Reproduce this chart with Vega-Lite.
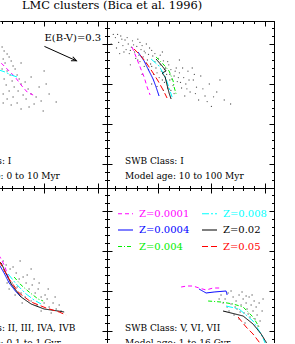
{
"$schema": "https://vega.github.io/schema/vega-lite/v6.json",
"padding": 0,
"background": "white",
"columns": 2,
"align": "each",
"bounds": "flush",
"spacing": 0,
"title": {"text": "LMC clusters (Bica et al. 1996)", "anchor": "start", "dx": 22, "font": "DejaVu Serif", "fontSize": 11.4, "fontWeight": "normal", "color": "#000", "baseline": "alphabetic", "offset": 0},
"config": {"view": {"stroke": null}, "axis": {"labels": false, "grid": false, "domainColor": "#000", "tickColor": "#000", "domainWidth": 1, "tickWidth": 1, "minExtent": 0, "maxExtent": 0}},
"datasets": {
"pts": [
{"p":"TR","bv":-0.40,"ub":-1.08},{"p":"TR","bv":-0.37,"ub":-1.02},{"p":"TR","bv":-0.35,"ub":-1.10},{"p":"TR","bv":-0.33,"ub":-0.98},{"p":"TR","bv":-0.31,"ub":-1.05},{"p":"TR","bv":-0.30,"ub":-0.93},{"p":"TR","bv":-0.28,"ub":-1.00},{"p":"TR","bv":-0.27,"ub":-0.88},{"p":"TR","bv":-0.25,"ub":-0.96},{"p":"TR","bv":-0.24,"ub":-1.04},{"p":"TR","bv":-0.22,"ub":-0.90},{"p":"TR","bv":-0.21,"ub":-0.82},{"p":"TR","bv":-0.20,"ub":-0.97},{"p":"TR","bv":-0.18,"ub":-0.86},{"p":"TR","bv":-0.17,"ub":-0.78},{"p":"TR","bv":-0.16,"ub":-0.93},{"p":"TR","bv":-0.14,"ub":-0.84},{"p":"TR","bv":-0.13,"ub":-0.72},{"p":"TR","bv":-0.12,"ub":-0.89},{"p":"TR","bv":-0.10,"ub":-0.80},{"p":"TR","bv":-0.09,"ub":-0.68},{"p":"TR","bv":-0.08,"ub":-0.95},{"p":"TR","bv":-0.07,"ub":-0.75},{"p":"TR","bv":-0.05,"ub":-0.85},{"p":"TR","bv":-0.04,"ub":-0.62},{"p":"TR","bv":-0.03,"ub":-0.78},{"p":"TR","bv":-0.02,"ub":-0.70},{"p":"TR","bv":0.00,"ub":-0.82},{"p":"TR","bv":0.01,"ub":-0.58},{"p":"TR","bv":0.02,"ub":-0.74},{"p":"TR","bv":0.03,"ub":-0.66},{"p":"TR","bv":0.05,"ub":-0.79},{"p":"TR","bv":0.06,"ub":-0.52},{"p":"TR","bv":0.07,"ub":-0.70},{"p":"TR","bv":0.08,"ub":-0.62},{"p":"TR","bv":0.10,"ub":-0.74},{"p":"TR","bv":0.11,"ub":-0.55},{"p":"TR","bv":0.12,"ub":-0.68},{"p":"TR","bv":0.14,"ub":-0.48},{"p":"TR","bv":0.15,"ub":-0.60},{"p":"TR","bv":0.17,"ub":-0.70},{"p":"TR","bv":0.18,"ub":-0.53},{"p":"TR","bv":0.20,"ub":-0.64},{"p":"TR","bv":0.22,"ub":-0.45},{"p":"TR","bv":0.24,"ub":-0.58},{"p":"TR","bv":0.26,"ub":-0.50},{"p":"TR","bv":0.28,"ub":-0.66},{"p":"TR","bv":0.30,"ub":-0.40},{"p":"TR","bv":0.33,"ub":-0.55},{"p":"TR","bv":0.36,"ub":-0.46},{"p":"TR","bv":0.40,"ub":-0.60},{"p":"TR","bv":0.44,"ub":-0.35},{"p":"TR","bv":0.48,"ub":-0.50},{"p":"TR","bv":0.55,"ub":-0.40},{"p":"TR","bv":0.62,"ub":-0.30},{"p":"TR","bv":0.50,"ub":-0.22},{"p":"TR","bv":0.38,"ub":-0.30},{"p":"TR","bv":0.25,"ub":-0.35},{"p":"TR","bv":0.15,"ub":-0.38},{"p":"TR","bv":0.05,"ub":-0.42},{"p":"TR","bv":-0.06,"ub":-0.50},{"p":"TR","bv":-0.15,"ub":-0.62},{"p":"TR","bv":-0.26,"ub":-0.74},{"p":"TR","bv":-0.36,"ub":-0.88},{"p":"TR","bv":-0.11,"ub":-1.00},{"p":"TR","bv":0.04,"ub":-0.90},{"p":"TR","bv":0.20,"ub":-0.80},{"p":"TR","bv":0.09,"ub":-0.45},{"p":"TR","bv":0.32,"ub":-0.70},{"p":"TR","bv":0.58,"ub":-0.55},
{"p":"TR","bv":-0.42,"ub":-1.12},{"p":"TR","bv":-0.39,"ub":-0.95},{"p":"TR","bv":-0.34,"ub":-1.06},{"p":"TR","bv":-0.32,"ub":-0.90},{"p":"TR","bv":-0.29,"ub":-1.08},{"p":"TR","bv":-0.26,"ub":-0.92},{"p":"TR","bv":-0.23,"ub":-0.99},{"p":"TR","bv":-0.19,"ub":-1.06},{"p":"TR","bv":-0.19,"ub":-0.80},{"p":"TR","bv":-0.15,"ub":-0.98},{"p":"TR","bv":-0.13,"ub":-0.91},{"p":"TR","bv":-0.11,"ub":-0.76},{"p":"TR","bv":-0.09,"ub":-0.87},{"p":"TR","bv":-0.06,"ub":-0.92},{"p":"TR","bv":-0.06,"ub":-0.72},{"p":"TR","bv":-0.03,"ub":-0.88},{"p":"TR","bv":-0.01,"ub":-0.64},{"p":"TR","bv":0.02,"ub":-0.86},{"p":"TR","bv":0.04,"ub":-0.55},{"p":"TR","bv":0.06,"ub":-0.68},{"p":"TR","bv":0.09,"ub":-0.78},{"p":"TR","bv":0.11,"ub":-0.62},{"p":"TR","bv":0.13,"ub":-0.56},{"p":"TR","bv":0.16,"ub":-0.66},{"p":"TR","bv":0.19,"ub":-0.58},{"p":"TR","bv":0.21,"ub":-0.52},{"p":"TR","bv":0.23,"ub":-0.70},{"p":"TR","bv":0.27,"ub":-0.44},{"p":"TR","bv":0.29,"ub":-0.55},{"p":"TR","bv":0.34,"ub":-0.62},{"p":"TR","bv":0.42,"ub":-0.44},{"p":"TR","bv":0.46,"ub":-0.28},{"p":"TR","bv":0.52,"ub":-0.34},{"p":"TR","bv":0.35,"ub":-0.38},{"p":"TR","bv":0.12,"ub":-0.42},{"p":"TR","bv":-0.01,"ub":-0.47},{"p":"TR","bv":0.68,"ub":-0.25},{"p":"TR","bv":-0.44,"ub":-1.00},{"p":"TR","bv":-0.38,"ub":-1.12},{"p":"TR","bv":-0.17,"ub":-1.02},
{"p":"TL","bv":0.103,"ub":-0.9625},{"p":"TL","bv":0.122,"ub":-0.9125},{"p":"TL","bv":0.150,"ub":-0.875},{"p":"TL","bv":0.113,"ub":-0.8125},{"p":"TL","bv":0.169,"ub":-0.8375},{"p":"TL","bv":0.131,"ub":-0.7625},{"p":"TL","bv":0.188,"ub":-0.7875},{"p":"TL","bv":0.206,"ub":-0.725},{"p":"TL","bv":0.103,"ub":-0.6875},{"p":"TL","bv":0.150,"ub":-0.6625},{"p":"TL","bv":0.225,"ub":-0.6875},{"p":"TL","bv":0.178,"ub":-0.6125},{"p":"TL","bv":0.122,"ub":-0.5625},{"p":"TL","bv":0.244,"ub":-0.6125},{"p":"TL","bv":0.197,"ub":-0.5375},{"p":"TL","bv":0.263,"ub":-0.5625},{"p":"TL","bv":0.141,"ub":-0.4875},{"p":"TL","bv":0.281,"ub":-0.5},{"p":"TL","bv":0.216,"ub":-0.4625},{"p":"TL","bv":0.319,"ub":-0.525},{"p":"TL","bv":0.169,"ub":-0.4125},{"p":"TL","bv":0.253,"ub":-0.4125},{"p":"TL","bv":0.347,"ub":-0.4375},{"p":"TL","bv":0.113,"ub":-0.375},{"p":"TL","bv":0.300,"ub":-0.3625},{"p":"TL","bv":0.206,"ub":-0.3375},{"p":"TL","bv":0.375,"ub":-0.375},{"p":"TL","bv":0.150,"ub":-0.3125},{"p":"TL","bv":0.328,"ub":-0.3125},{"p":"TL","bv":0.422,"ub":-0.3375},{"p":"TL","bv":0.244,"ub":-0.2625},{"p":"TL","bv":0.403,"ub":-0.25},{"p":"TL","bv":0.469,"ub":-0.2875},{"p":"TL","bv":0.488,"ub":-0.1625},{"p":"TL","bv":0.610,"ub":-0.275},{"p":"TL","bv":0.497,"ub":-0.6625},{"p":"TL","bv":0.450,"ub":-0.4625},{"p":"TL","bv":0.544,"ub":-0.375},{"p":"TL","bv":0.356,"ub":-0.2125},{"p":"TL","bv":0.281,"ub":-0.1875},{"p":"TL","bv":0.188,"ub":-0.2375},{"p":"TL","bv":0.113,"ub":-0.2625},{"p":"TL","bv":0.375,"ub":-0.5875},{"p":"TL","bv":0.281,"ub":-0.7625},{"p":"TL","bv":0.516,"ub":-0.5},
{"p":"BL","bv":0.113,"ub":-0.375},{"p":"BL","bv":0.141,"ub":-0.325},{"p":"BL","bv":0.178,"ub":-0.275},{"p":"BL","bv":0.122,"ub":-0.25},{"p":"BL","bv":0.206,"ub":-0.3},{"p":"BL","bv":0.235,"ub":-0.225},{"p":"BL","bv":0.160,"ub":-0.175},{"p":"BL","bv":0.263,"ub":-0.15},{"p":"BL","bv":0.197,"ub":-0.1},{"p":"BL","bv":0.300,"ub":-0.175},{"p":"BL","bv":0.328,"ub":-0.1},{"p":"BL","bv":0.244,"ub":-0.05},{"p":"BL","bv":0.356,"ub":-0.025},{"p":"BL","bv":0.281,"ub":0.025},{"p":"BL","bv":0.385,"ub":-0.075},{"p":"BL","bv":0.413,"ub":0.025},{"p":"BL","bv":0.319,"ub":0.075},{"p":"BL","bv":0.441,"ub":-0.025},{"p":"BL","bv":0.469,"ub":0.075},{"p":"BL","bv":0.375,"ub":0.125},{"p":"BL","bv":0.497,"ub":0.15},{"p":"BL","bv":0.431,"ub":0.175},{"p":"BL","bv":0.525,"ub":0.1},{"p":"BL","bv":0.544,"ub":0.2},{"p":"BL","bv":0.469,"ub":0.25},{"p":"BL","bv":0.581,"ub":0.15},{"p":"BL","bv":0.610,"ub":0.225},{"p":"BL","bv":0.563,"ub":0.275},{"p":"BL","bv":0.638,"ub":0.175},{"p":"BL","bv":0.656,"ub":0.25},{"p":"BL","bv":0.506,"ub":0.05},{"p":"BL","bv":0.338,"ub":-0.2},{"p":"BL","bv":0.403,"ub":-0.15},{"p":"BL","bv":0.450,"ub":-0.1},{"p":"BL","bv":0.225,"ub":0.05},{"p":"BL","bv":0.169,"ub":-0.025},{"p":"BL","bv":0.291,"ub":0.15},{"p":"BL","bv":0.535,"ub":-0.025},{"p":"BL","bv":0.600,"ub":0.075},{"p":"BL","bv":0.375,"ub":-0.275},{"p":"BL","bv":0.272,"ub":-0.375},{"p":"BL","bv":0.150,"ub":-0.1},
{"p":"BR","bv":0.590,"ub":0.05},{"p":"BR","bv":0.628,"ub":0.1},{"p":"BR","bv":0.656,"ub":0.025},{"p":"BR","bv":0.684,"ub":0.1625},{"p":"BR","bv":0.703,"ub":0.075},{"p":"BR","bv":0.731,"ub":0.125},{"p":"BR","bv":0.740,"ub":0.225},{"p":"BR","bv":0.759,"ub":0.05},{"p":"BR","bv":0.778,"ub":0.175},{"p":"BR","bv":0.797,"ub":0.1},{"p":"BR","bv":0.806,"ub":0.275},{"p":"BR","bv":0.825,"ub":0.15},{"p":"BR","bv":0.834,"ub":0.225},{"p":"BR","bv":0.853,"ub":0.075},{"p":"BR","bv":0.862,"ub":0.325},{"p":"BR","bv":0.872,"ub":0.175},{"p":"BR","bv":0.890,"ub":0.25},{"p":"BR","bv":0.900,"ub":0.125},{"p":"BR","bv":0.919,"ub":0.2},{"p":"BR","bv":0.928,"ub":0.3},{"p":"BR","bv":0.947,"ub":0.15},{"p":"BR","bv":0.956,"ub":0.375},{"p":"BR","bv":0.975,"ub":0.25},{"p":"BR","bv":0.665,"ub":0.25},{"p":"BR","bv":0.712,"ub":0.3},{"p":"BR","bv":0.759,"ub":0.35},{"p":"BR","bv":0.815,"ub":0.4},{"p":"BR","bv":0.647,"ub":0.2},{"p":"BR","bv":0.609,"ub":0.15},{"p":"BR","bv":0.684,"ub":0.0},{"p":"BR","bv":0.787,"ub":0.0125},{"p":"BR","bv":0.881,"ub":0.05},{"p":"BR","bv":0.844,"ub":0.2875},{"p":"BR","bv":0.769,"ub":0.2625},{"p":"BR","bv":0.909,"ub":0.35},{"p":"BR","bv":0.984,"ub":0.1},{"p":"BR","bv":0.572,"ub":0.1},{"p":"BR","bv":0.722,"ub":0.2},{"p":"BR","bv":0.825,"ub":0.0625},{"p":"BR","bv":0.937,"ub":0.4375}
],
"iso": [
{"p":"TR","z":"Z=0.0001","i":0,"bv":-0.244,"ub":-0.9625},{"p":"TR","z":"Z=0.0001","i":1,"bv":-0.206,"ub":-0.8375},{"p":"TR","z":"Z=0.0001","i":2,"bv":-0.169,"ub":-0.7125},{"p":"TR","z":"Z=0.0001","i":3,"bv":-0.131,"ub":-0.5875},{"p":"TR","z":"Z=0.0001","i":4,"bv":-0.103,"ub":-0.4625},{"p":"TR","z":"Z=0.0001","i":5,"bv":-0.075,"ub":-0.3625},
{"p":"TR","z":"Z=0.0004","i":0,"bv":-0.188,"ub":-0.9},{"p":"TR","z":"Z=0.0004","i":1,"bv":-0.131,"ub":-0.7875},{"p":"TR","z":"Z=0.0004","i":2,"bv":-0.085,"ub":-0.6625},{"p":"TR","z":"Z=0.0004","i":3,"bv":-0.047,"ub":-0.5625},{"p":"TR","z":"Z=0.0004","i":4,"bv":-0.019,"ub":-0.4625},{"p":"TR","z":"Z=0.0004","i":5,"bv":0.009,"ub":-0.35},
{"p":"TR","z":"Z=0.05","i":0,"bv":-0.225,"ub":-0.9375},{"p":"TR","z":"Z=0.05","i":1,"bv":-0.16,"ub":-0.85},{"p":"TR","z":"Z=0.05","i":2,"bv":-0.103,"ub":-0.75},{"p":"TR","z":"Z=0.05","i":3,"bv":-0.047,"ub":-0.6375},{"p":"TR","z":"Z=0.05","i":4,"bv":0.0,"ub":-0.5375},{"p":"TR","z":"Z=0.05","i":5,"bv":0.047,"ub":-0.425},{"p":"TR","z":"Z=0.05","i":6,"bv":0.084,"ub":-0.325},
{"p":"TR","z":"Z=0.008","i":0,"bv":-0.066,"ub":-0.8125},{"p":"TR","z":"Z=0.008","i":1,"bv":0.009,"ub":-0.725},{"p":"TR","z":"Z=0.008","i":2,"bv":0.047,"ub":-0.6375},{"p":"TR","z":"Z=0.008","i":3,"bv":0.075,"ub":-0.5625},{"p":"TR","z":"Z=0.008","i":4,"bv":0.103,"ub":-0.45},{"p":"TR","z":"Z=0.008","i":5,"bv":0.131,"ub":-0.3375},
{"p":"TR","z":"Z=0.004","i":0,"bv":-0.019,"ub":-0.8375},{"p":"TR","z":"Z=0.004","i":1,"bv":0.047,"ub":-0.75},{"p":"TR","z":"Z=0.004","i":2,"bv":0.103,"ub":-0.6625},{"p":"TR","z":"Z=0.004","i":3,"bv":0.141,"ub":-0.5375},{"p":"TR","z":"Z=0.004","i":4,"bv":0.15,"ub":-0.4625},{"p":"TR","z":"Z=0.004","i":5,"bv":0.169,"ub":-0.375},
{"p":"TR","z":"Z=0.02","i":0,"bv":-0.019,"ub":-0.8125},{"p":"TR","z":"Z=0.02","i":1,"bv":0.038,"ub":-0.725},{"p":"TR","z":"Z=0.02","i":2,"bv":0.075,"ub":-0.6625},{"p":"TR","z":"Z=0.02","i":3,"bv":0.038,"ub":-0.6375},{"p":"TR","z":"Z=0.02","i":4,"bv":0.066,"ub":-0.5875},{"p":"TR","z":"Z=0.02","i":5,"bv":0.084,"ub":-0.4875},{"p":"TR","z":"Z=0.02","i":6,"bv":0.103,"ub":-0.3875},{"p":"TR","z":"Z=0.02","i":7,"bv":0.122,"ub":-0.3125},
{"p":"TL","z":"Z=0.0001","i":0,"bv":0.0,"ub":-0.88},{"p":"TL","z":"Z=0.0001","i":1,"bv":0.094,"ub":-0.7625},{"p":"TL","z":"Z=0.0001","i":2,"bv":0.169,"ub":-0.6625},{"p":"TL","z":"Z=0.0001","i":3,"bv":0.225,"ub":-0.5875},{"p":"TL","z":"Z=0.0001","i":4,"bv":0.281,"ub":-0.4875},{"p":"TL","z":"Z=0.0001","i":5,"bv":0.338,"ub":-0.4},{"p":"TL","z":"Z=0.0001","i":6,"bv":0.394,"ub":-0.3625},
{"p":"TL","z":"Z=0.008","i":0,"bv":-0.05,"ub":-0.72},{"p":"TL","z":"Z=0.008","i":1,"bv":0.047,"ub":-0.6875},{"p":"TL","z":"Z=0.008","i":2,"bv":0.131,"ub":-0.65},{"p":"TL","z":"Z=0.008","i":3,"bv":0.188,"ub":-0.6125},{"p":"TL","z":"Z=0.008","i":4,"bv":0.244,"ub":-0.5875},
{"p":"BL","z":"Z=0.0001","i":0,"bv":0.038,"ub":-0.525},{"p":"BL","z":"Z=0.0001","i":1,"bv":0.094,"ub":-0.4},{"p":"BL","z":"Z=0.0001","i":2,"bv":0.131,"ub":-0.3},{"p":"BL","z":"Z=0.0001","i":3,"bv":0.16,"ub":-0.175},
{"p":"BL","z":"Z=0.0004","i":0,"bv":0.056,"ub":-0.375},{"p":"BL","z":"Z=0.0004","i":1,"bv":0.122,"ub":-0.225},{"p":"BL","z":"Z=0.0004","i":2,"bv":0.169,"ub":-0.1},{"p":"BL","z":"Z=0.0004","i":3,"bv":0.235,"ub":0.0125},{"p":"BL","z":"Z=0.0004","i":4,"bv":0.281,"ub":0.075},
{"p":"BL","z":"Z=0.02","i":0,"bv":0.0,"ub":-0.45},{"p":"BL","z":"Z=0.02","i":1,"bv":0.094,"ub":-0.35},{"p":"BL","z":"Z=0.02","i":2,"bv":0.188,"ub":-0.0875},{"p":"BL","z":"Z=0.02","i":3,"bv":0.281,"ub":0.075},{"p":"BL","z":"Z=0.02","i":4,"bv":0.375,"ub":0.1625},{"p":"BL","z":"Z=0.02","i":5,"bv":0.497,"ub":0.225},{"p":"BL","z":"Z=0.02","i":6,"bv":0.628,"ub":0.25},{"p":"BL","z":"Z=0.02","i":7,"bv":0.685,"ub":0.2625},
{"p":"BL","z":"Z=0.05","i":0,"bv":0.075,"ub":-0.375},{"p":"BL","z":"Z=0.05","i":1,"bv":0.169,"ub":-0.15},{"p":"BL","z":"Z=0.05","i":2,"bv":0.263,"ub":0.025},{"p":"BL","z":"Z=0.05","i":3,"bv":0.375,"ub":0.1375},{"p":"BL","z":"Z=0.05","i":4,"bv":0.516,"ub":0.2125},{"p":"BL","z":"Z=0.05","i":5,"bv":0.638,"ub":0.2625},{"p":"BL","z":"Z=0.05","i":6,"bv":0.703,"ub":0.3},
{"p":"BL","z":"Z=0.008","i":0,"bv":0.16,"ub":-0.2125},{"p":"BL","z":"Z=0.008","i":1,"bv":0.235,"ub":-0.0875},{"p":"BL","z":"Z=0.008","i":2,"bv":0.328,"ub":0.0375},{"p":"BL","z":"Z=0.008","i":3,"bv":0.403,"ub":0.1125},{"p":"BL","z":"Z=0.008","i":4,"bv":0.469,"ub":0.1625},
{"p":"BL","z":"Z=0.004","i":0,"bv":0.216,"ub":-0.175},{"p":"BL","z":"Z=0.004","i":1,"bv":0.281,"ub":-0.075},{"p":"BL","z":"Z=0.004","i":2,"bv":0.356,"ub":0.0125},{"p":"BL","z":"Z=0.004","i":3,"bv":0.441,"ub":0.1},{"p":"BL","z":"Z=0.004","i":4,"bv":0.488,"ub":0.125},
{"p":"BR","z":"Z=0.0001","i":0,"bv":0.216,"ub":-0.05},{"p":"BR","z":"Z=0.0001","i":1,"bv":0.272,"ub":-0.0625},{"p":"BR","z":"Z=0.0001","i":2,"bv":0.328,"ub":-0.0625},{"p":"BR","z":"Z=0.0001","i":3,"bv":0.384,"ub":-0.0375},{"p":"BR","z":"Z=0.0001","i":4,"bv":0.45,"ub":-0.0125},{"p":"BR","z":"Z=0.0001","i":5,"bv":0.515,"ub":-0.0375},{"p":"BR","z":"Z=0.0001","i":6,"bv":0.59,"ub":-0.0375},
{"p":"BR","z":"Z=0.0004","i":0,"bv":0.384,"ub":-0.025},{"p":"BR","z":"Z=0.0004","i":1,"bv":0.45,"ub":0.025},{"p":"BR","z":"Z=0.0004","i":2,"bv":0.525,"ub":0.0125},{"p":"BR","z":"Z=0.0004","i":3,"bv":0.6375,"ub":0.0},{"p":"BR","z":"Z=0.0004","i":4,"bv":0.647,"ub":0.05},
{"p":"BR","z":"Z=0.004","i":0,"bv":0.469,"ub":0.125},{"p":"BR","z":"Z=0.004","i":1,"bv":0.59,"ub":0.1375},{"p":"BR","z":"Z=0.004","i":2,"bv":0.703,"ub":0.1625},{"p":"BR","z":"Z=0.004","i":3,"bv":0.797,"ub":0.2},{"p":"BR","z":"Z=0.004","i":4,"bv":0.89,"ub":0.325},{"p":"BR","z":"Z=0.004","i":5,"bv":0.947,"ub":0.45},
{"p":"BR","z":"Z=0.008","i":0,"bv":0.6375,"ub":0.1875},{"p":"BR","z":"Z=0.008","i":1,"bv":0.759,"ub":0.225},{"p":"BR","z":"Z=0.008","i":2,"bv":0.89,"ub":0.375},{"p":"BR","z":"Z=0.008","i":3,"bv":0.966,"ub":0.5375},{"p":"BR","z":"Z=0.008","i":4,"bv":1.003,"ub":0.65},{"p":"BR","z":"Z=0.008","i":5,"bv":1.022,"ub":0.725},
{"p":"BR","z":"Z=0.02","i":0,"bv":0.609,"ub":0.25},{"p":"BR","z":"Z=0.02","i":1,"bv":0.797,"ub":0.3125},{"p":"BR","z":"Z=0.02","i":2,"bv":0.89,"ub":0.4125},{"p":"BR","z":"Z=0.02","i":3,"bv":0.966,"ub":0.5375},{"p":"BR","z":"Z=0.02","i":4,"bv":1.012,"ub":0.6375},{"p":"BR","z":"Z=0.02","i":5,"bv":1.04,"ub":0.725},
{"p":"BR","z":"Z=0.05","i":0,"bv":0.75,"ub":0.325},{"p":"BR","z":"Z=0.05","i":1,"bv":0.825,"ub":0.45},{"p":"BR","z":"Z=0.05","i":2,"bv":0.89,"ub":0.5375},{"p":"BR","z":"Z=0.05","i":3,"bv":0.947,"ub":0.6375},{"p":"BR","z":"Z=0.05","i":4,"bv":0.984,"ub":0.725}
],
"lab": [
{"p":"TL","t":"SWB Class: I\nModel age: 0 to 10 Myr","bv":-0.36,"ub":0.5},
{"p":"TR","t":"SWB Class: I\nModel age: 10 to 100 Myr","bv":-0.31,"ub":0.5},
{"p":"BL","t":"SWB Class: II, III, IVA, IVB\nModel age: 0.1 to 1 Gyr","bv":-0.36,"ub":0.5},
{"p":"BR","t":"SWB Class: V, VI, VII\nModel age: 1 to 16 Gyr","bv":-0.31,"ub":0.5}
],
"arr": [{"bv":0.5,"ub":-0.97,"bv2":0.8,"ub2":-0.79}],
"note": [{"t":"E(B-V)=0.3","bv":0.5,"ub":-1.0375}]
},
"concat": [
{"width": 107, "height": 167, "resolve": {"axis": {"x": "independent", "y": "independent"}}, "layer": [
{"data": {"name": "pts"}, "transform": [{"filter": "datum.p === 'TL'"}], "mark": {"type": "circle", "size": 1.6, "color": "#555", "opacity": 1, "clip": true},
 "encoding": {"x": {"field": "bv", "type": "quantitative", "scale": {"domain": [0.0835, 1.0866], "nice": false, "zero": false}, "axis": {"orient": "bottom", "values": [0.5, 1], "tickSize": -5, "title": null}},
  "y": {"field": "ub", "type": "quantitative", "scale": {"domain": [-1.2875, 0.8], "reverse": true, "nice": false, "zero": false}, "axis": null}}},
{"data": {"name": "iso"}, "transform": [{"filter": "datum.p === 'TL'"}], "mark": {"type": "line", "strokeWidth": 1, "clip": true},
 "encoding": {"x": {"field": "bv", "type": "quantitative", "scale": {"domain": [0.0835, 1.0866], "nice": false, "zero": false}, "axis": {"orient": "top", "values": [0.5, 1], "tickSize": -5, "title": null}},
  "y": {"field": "ub", "type": "quantitative", "scale": {"domain": [-1.2875, 0.8], "reverse": true, "nice": false, "zero": false}, "axis": {"orient": "right", "values": [-1, -0.5, 0, 0.5], "tickSize": -5, "title": null}},
  "order": {"field": "i", "type": "quantitative"},
  "color": {"field": "z", "type": "nominal", "scale": {"domain": ["Z=0.0001","Z=0.0004","Z=0.004","Z=0.008","Z=0.02","Z=0.05"], "range": ["#ff00ff","#0000ff","#00ee00","#00ffff","#000000","#ff0000"]}, "legend": {"title": null, "orient": "none", "legendX": 117, "legendY": 184, "columns": 2, "symbolType": "stroke", "symbolSize": 225, "symbolStrokeWidth": 1.2, "labelFont": "DejaVu Serif", "labelFontSize": 10, "labelOffset": 5, "columnPadding": 9, "rowPadding": 2.5, "padding": 0, "encode": {"labels": {"update": {"fill": {"signal": "datum.value === 'Z=0.0001' ? '#ff00ff' : datum.value === 'Z=0.0004' ? '#0000ff' : datum.value === 'Z=0.004' ? '#00ee00' : datum.value === 'Z=0.008' ? '#00ffff' : datum.value === 'Z=0.05' ? '#ff0000' : '#000000'"}}}}}},
  "strokeDash": {"field": "z", "type": "nominal", "scale": {"domain": ["Z=0.0001","Z=0.0004","Z=0.004","Z=0.008","Z=0.02","Z=0.05"], "range": [[4,3],[1,0],[4,2,1,2],[7,2,2,2],[1,0],[6,3]]}, "legend": {"title": null, "orient": "none", "legendX": 117, "legendY": 184, "columns": 2, "symbolType": "stroke", "symbolSize": 225, "symbolStrokeWidth": 1.2, "labelFont": "DejaVu Serif", "labelFontSize": 10, "labelOffset": 5, "columnPadding": 9, "rowPadding": 2.5, "padding": 0, "encode": {"labels": {"update": {"fill": {"signal": "datum.value === 'Z=0.0001' ? '#ff00ff' : datum.value === 'Z=0.0004' ? '#0000ff' : datum.value === 'Z=0.004' ? '#00ee00' : datum.value === 'Z=0.008' ? '#00ffff' : datum.value === 'Z=0.05' ? '#ff0000' : '#000000'"}}}}}}}},
{"data": {"name": "lab"}, "transform": [{"filter": "datum.p === 'TL'"}], "mark": {"type": "text", "font": "DejaVu Serif", "fontSize": 9, "align": "left", "baseline": "alphabetic", "lineBreak": "\n", "lineHeight": 15, "color": "#000", "clip": true},
 "encoding": {"x": {"field": "bv", "type": "quantitative", "scale": {"domain": [0.0835, 1.0866], "nice": false, "zero": false}, "axis": {"orient": "bottom", "values": [0.1,0.2,0.3,0.4,0.6,0.7,0.8,0.9], "tickSize": -2.5, "title": null}},
  "y": {"field": "ub", "type": "quantitative", "scale": {"domain": [-1.2875, 0.8], "reverse": true, "nice": false, "zero": false}, "axis": null}, "text": {"field": "t"}}},
{"data": {"name": "lab"}, "transform": [{"filter": "datum.p === 'TL'"}], "mark": {"type": "text", "opacity": 0, "clip": true},
 "encoding": {"x": {"field": "bv", "type": "quantitative", "scale": {"domain": [0.0835, 1.0866], "nice": false, "zero": false}, "axis": {"orient": "top", "values": [0.1,0.2,0.3,0.4,0.6,0.7,0.8,0.9], "tickSize": -2.5, "title": null}},
  "y": {"field": "ub", "type": "quantitative", "scale": {"domain": [-1.2875, 0.8], "reverse": true, "nice": false, "zero": false}, "axis": {"orient": "right", "values": [-1.2,-1.1,-0.9,-0.8,-0.7,-0.6,-0.4,-0.3,-0.2,-0.1,0.1,0.2,0.3,0.4,0.6,0.7], "tickSize": -2.5, "title": null}}, "text": {"field": "t"}}},
{"data": {"name": "arr"}, "mark": {"type": "rule", "color": "#000", "strokeWidth": 1},
 "encoding": {"x": {"field": "bv", "type": "quantitative", "axis": null}, "y": {"field": "ub", "type": "quantitative", "axis": null}, "x2": {"field": "bv2"}, "y2": {"field": "ub2"}}},
{"data": {"name": "arr"}, "mark": {"type": "point", "shape": "M -1 -0.45 L 0 0 L -1 0.45", "size": 100, "filled": false, "color": "#000", "strokeWidth": 1, "angle": 24, "opacity": 1},
 "encoding": {"x": {"field": "bv2", "type": "quantitative", "axis": null}, "y": {"field": "ub2", "type": "quantitative", "axis": null}}},
{"data": {"name": "note"}, "mark": {"type": "text", "font": "DejaVu Serif", "fontSize": 10, "align": "left", "baseline": "alphabetic", "color": "#000"},
 "encoding": {"x": {"field": "bv", "type": "quantitative", "axis": null}, "y": {"field": "ub", "type": "quantitative", "axis": null}, "text": {"field": "t"}}}
]},
{"width": 167, "height": 167, "resolve": {"axis": {"x": "independent", "y": "independent"}}, "layer": [
{"data": {"name": "pts"}, "transform": [{"filter": "datum.p === 'TR'"}], "mark": {"type": "circle", "size": 1.6, "color": "#555", "opacity": 1, "clip": true},
 "encoding": {"x": {"field": "bv", "type": "quantitative", "scale": {"domain": [-0.479, 1.0866], "nice": false, "zero": false}, "axis": {"orient": "bottom", "values": [0, 0.5, 1], "tickSize": -5, "title": null}},
  "y": {"field": "ub", "type": "quantitative", "scale": {"domain": [-1.2875, 0.8], "reverse": true, "nice": false, "zero": false}, "axis": {"orient": "left", "values": [-1, -0.5, 0, 0.5], "tickSize": -5, "title": null}}}},
{"data": {"name": "iso"}, "transform": [{"filter": "datum.p === 'TR'"}], "mark": {"type": "line", "strokeWidth": 1, "clip": true},
 "encoding": {"x": {"field": "bv", "type": "quantitative", "scale": {"domain": [-0.479, 1.0866], "nice": false, "zero": false}, "axis": {"orient": "top", "values": [0, 0.5, 1], "tickSize": -5, "title": null}},
  "y": {"field": "ub", "type": "quantitative", "scale": {"domain": [-1.2875, 0.8], "reverse": true, "nice": false, "zero": false}, "axis": {"orient": "right", "values": [-1, -0.5, 0, 0.5], "tickSize": -5, "title": null}},
  "order": {"field": "i", "type": "quantitative"},
  "color": {"field": "z", "type": "nominal"},
  "strokeDash": {"field": "z", "type": "nominal"}}},
{"data": {"name": "lab"}, "transform": [{"filter": "datum.p === 'TR'"}], "mark": {"type": "text", "font": "DejaVu Serif", "fontSize": 9, "align": "left", "baseline": "alphabetic", "lineBreak": "\n", "lineHeight": 15, "color": "#000", "clip": true},
 "encoding": {"x": {"field": "bv", "type": "quantitative", "scale": {"domain": [-0.479, 1.0866], "nice": false, "zero": false}, "axis": {"orient": "bottom", "values": [-0.4,-0.3,-0.2,-0.1,0.1,0.2,0.3,0.4,0.6,0.7,0.8,0.9], "tickSize": -2.5, "title": null}},
  "y": {"field": "ub", "type": "quantitative", "scale": {"domain": [-1.2875, 0.8], "reverse": true, "nice": false, "zero": false}, "axis": {"orient": "left", "values": [-1.2,-1.1,-0.9,-0.8,-0.7,-0.6,-0.4,-0.3,-0.2,-0.1,0.1,0.2,0.3,0.4,0.6,0.7], "tickSize": -2.5, "title": null}}, "text": {"field": "t"}}},
{"data": {"name": "lab"}, "transform": [{"filter": "datum.p === 'TR'"}], "mark": {"type": "text", "opacity": 0, "clip": true},
 "encoding": {"x": {"field": "bv", "type": "quantitative", "scale": {"domain": [-0.479, 1.0866], "nice": false, "zero": false}, "axis": {"orient": "top", "values": [-0.4,-0.3,-0.2,-0.1,0.1,0.2,0.3,0.4,0.6,0.7,0.8,0.9], "tickSize": -2.5, "title": null}},
  "y": {"field": "ub", "type": "quantitative", "scale": {"domain": [-1.2875, 0.8], "reverse": true, "nice": false, "zero": false}, "axis": {"orient": "right", "values": [-1.2,-1.1,-0.9,-0.8,-0.7,-0.6,-0.4,-0.3,-0.2,-0.1,0.1,0.2,0.3,0.4,0.6,0.7], "tickSize": -2.5, "title": null}}, "text": {"field": "t"}}}
]},
{"width": 107, "height": 155, "resolve": {"axis": {"x": "independent", "y": "independent"}}, "layer": [
{"data": {"name": "pts"}, "transform": [{"filter": "datum.p === 'BL'"}], "mark": {"type": "circle", "size": 1.6, "color": "#555", "opacity": 1, "clip": true},
 "encoding": {"x": {"field": "bv", "type": "quantitative", "scale": {"domain": [0.0835, 1.0866], "nice": false, "zero": false}, "axis": null},
  "y": {"field": "ub", "type": "quantitative", "scale": {"domain": [-1.2875, 0.65], "reverse": true, "nice": false, "zero": false}, "axis": null}}},
{"data": {"name": "iso"}, "transform": [{"filter": "datum.p === 'BL'"}], "mark": {"type": "line", "strokeWidth": 1, "clip": true},
 "encoding": {"x": {"field": "bv", "type": "quantitative", "scale": {"domain": [0.0835, 1.0866], "nice": false, "zero": false}, "axis": {"orient": "top", "values": [0.5, 1], "tickSize": -5, "title": null}},
  "y": {"field": "ub", "type": "quantitative", "scale": {"domain": [-1.2875, 0.65], "reverse": true, "nice": false, "zero": false}, "axis": {"orient": "right", "values": [-1, -0.5, 0, 0.5], "tickSize": -5, "title": null}},
  "order": {"field": "i", "type": "quantitative"},
  "color": {"field": "z", "type": "nominal"},
  "strokeDash": {"field": "z", "type": "nominal"}}},
{"data": {"name": "lab"}, "transform": [{"filter": "datum.p === 'BL'"}], "mark": {"type": "text", "font": "DejaVu Serif", "fontSize": 9, "align": "left", "baseline": "alphabetic", "lineBreak": "\n", "lineHeight": 15, "color": "#000", "clip": true},
 "encoding": {"x": {"field": "bv", "type": "quantitative", "scale": {"domain": [0.0835, 1.0866], "nice": false, "zero": false}, "axis": null},
  "y": {"field": "ub", "type": "quantitative", "scale": {"domain": [-1.2875, 0.65], "reverse": true, "nice": false, "zero": false}, "axis": null}, "text": {"field": "t"}}},
{"data": {"name": "lab"}, "transform": [{"filter": "datum.p === 'BL'"}], "mark": {"type": "text", "opacity": 0, "clip": true},
 "encoding": {"x": {"field": "bv", "type": "quantitative", "scale": {"domain": [0.0835, 1.0866], "nice": false, "zero": false}, "axis": {"orient": "top", "values": [0.1,0.2,0.3,0.4,0.6,0.7,0.8,0.9], "tickSize": -2.5, "title": null}},
  "y": {"field": "ub", "type": "quantitative", "scale": {"domain": [-1.2875, 0.65], "reverse": true, "nice": false, "zero": false}, "axis": {"orient": "right", "values": [-1.2,-1.1,-0.9,-0.8,-0.7,-0.6,-0.4,-0.3,-0.2,-0.1,0.1,0.2,0.3,0.4,0.6], "tickSize": -2.5, "title": null}}, "text": {"field": "t"}}}
]},
{"width": 167, "height": 155, "resolve": {"axis": {"x": "independent", "y": "independent"}}, "layer": [
{"data": {"name": "pts"}, "transform": [{"filter": "datum.p === 'BR'"}], "mark": {"type": "circle", "size": 1.6, "color": "#555", "opacity": 1, "clip": true},
 "encoding": {"x": {"field": "bv", "type": "quantitative", "scale": {"domain": [-0.479, 1.0866], "nice": false, "zero": false}, "axis": null},
  "y": {"field": "ub", "type": "quantitative", "scale": {"domain": [-1.2875, 0.65], "reverse": true, "nice": false, "zero": false}, "axis": {"orient": "left", "values": [-1, -0.5, 0, 0.5], "tickSize": -5, "title": null}}}},
{"data": {"name": "iso"}, "transform": [{"filter": "datum.p === 'BR'"}], "mark": {"type": "line", "strokeWidth": 1, "clip": true},
 "encoding": {"x": {"field": "bv", "type": "quantitative", "scale": {"domain": [-0.479, 1.0866], "nice": false, "zero": false}, "axis": {"orient": "top", "values": [0, 0.5, 1], "tickSize": -5, "title": null}},
  "y": {"field": "ub", "type": "quantitative", "scale": {"domain": [-1.2875, 0.65], "reverse": true, "nice": false, "zero": false}, "axis": {"orient": "right", "values": [-1, -0.5, 0, 0.5], "tickSize": -5, "title": null}},
  "order": {"field": "i", "type": "quantitative"},
  "color": {"field": "z", "type": "nominal"},
  "strokeDash": {"field": "z", "type": "nominal"}}},
{"data": {"name": "lab"}, "transform": [{"filter": "datum.p === 'BR'"}], "mark": {"type": "text", "font": "DejaVu Serif", "fontSize": 9, "align": "left", "baseline": "alphabetic", "lineBreak": "\n", "lineHeight": 15, "color": "#000", "clip": true},
 "encoding": {"x": {"field": "bv", "type": "quantitative", "scale": {"domain": [-0.479, 1.0866], "nice": false, "zero": false}, "axis": null},
  "y": {"field": "ub", "type": "quantitative", "scale": {"domain": [-1.2875, 0.65], "reverse": true, "nice": false, "zero": false}, "axis": {"orient": "left", "values": [-1.2,-1.1,-0.9,-0.8,-0.7,-0.6,-0.4,-0.3,-0.2,-0.1,0.1,0.2,0.3,0.4,0.6], "tickSize": -2.5, "title": null}}, "text": {"field": "t"}}},
{"data": {"name": "lab"}, "transform": [{"filter": "datum.p === 'BR'"}], "mark": {"type": "text", "opacity": 0, "clip": true},
 "encoding": {"x": {"field": "bv", "type": "quantitative", "scale": {"domain": [-0.479, 1.0866], "nice": false, "zero": false}, "axis": {"orient": "top", "values": [-0.4,-0.3,-0.2,-0.1,0.1,0.2,0.3,0.4,0.6,0.7,0.8,0.9], "tickSize": -2.5, "title": null}},
  "y": {"field": "ub", "type": "quantitative", "scale": {"domain": [-1.2875, 0.65], "reverse": true, "nice": false, "zero": false}, "axis": {"orient": "right", "values": [-1.2,-1.1,-0.9,-0.8,-0.7,-0.6,-0.4,-0.3,-0.2,-0.1,0.1,0.2,0.3,0.4,0.6], "tickSize": -2.5, "title": null}}, "text": {"field": "t"}}}
]}
]
}
